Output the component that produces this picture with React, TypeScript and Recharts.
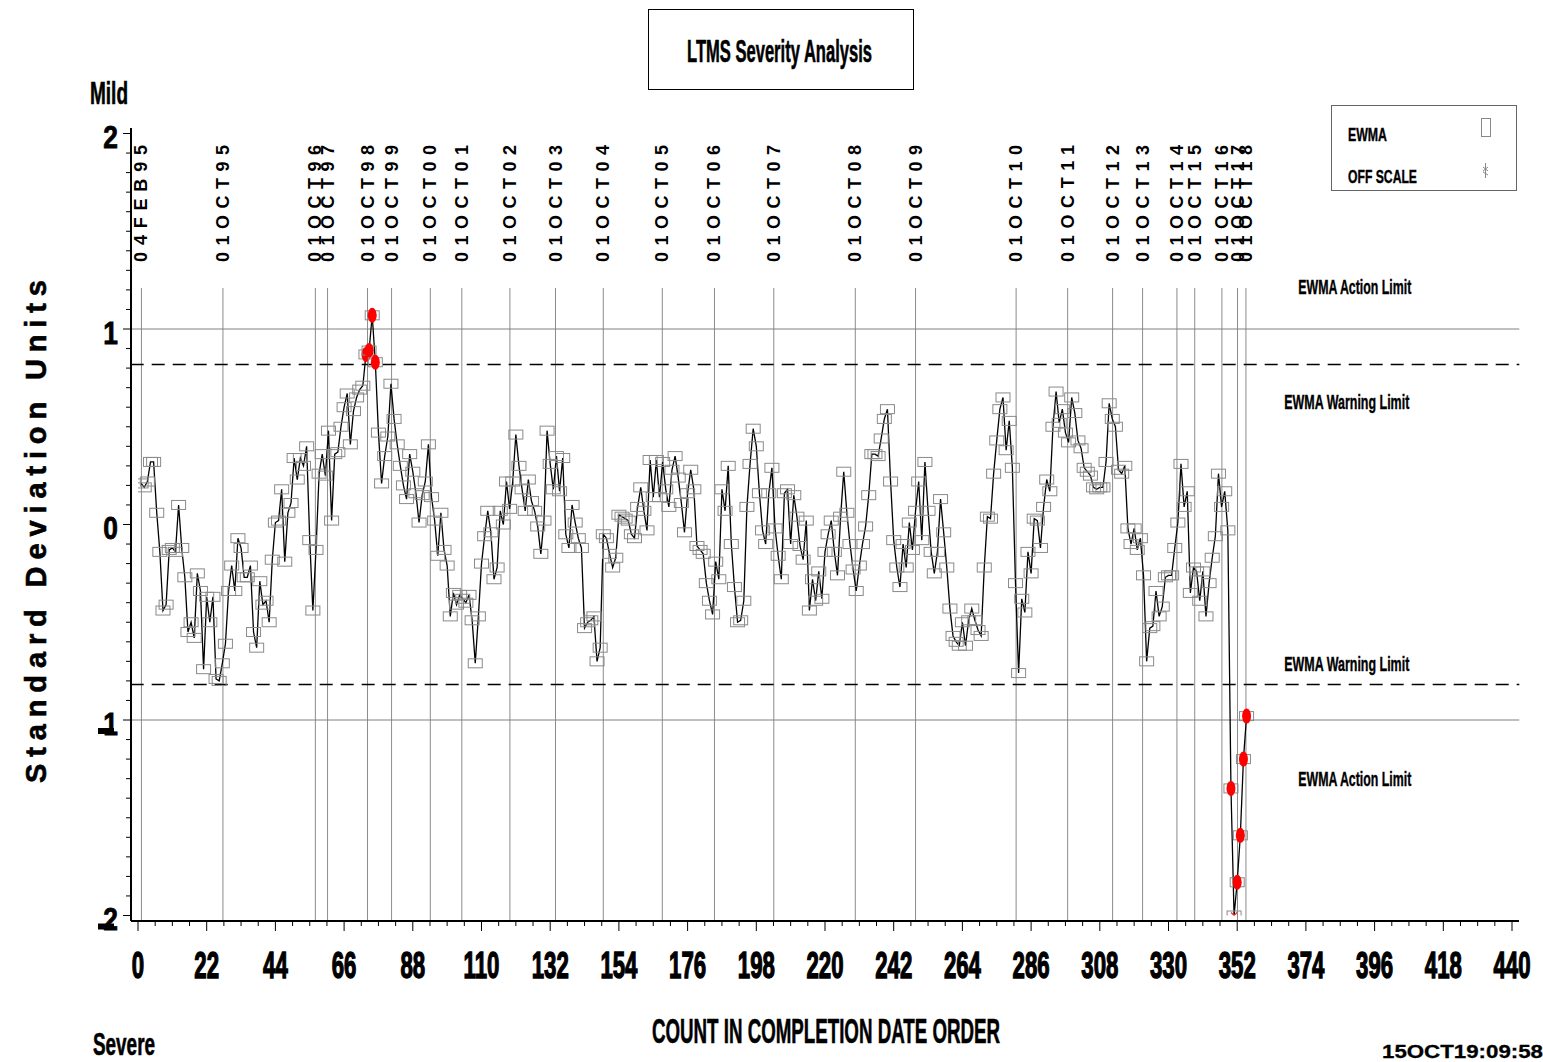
import React from "react";
import { ComposedChart, Line, XAxis, YAxis, ReferenceLine } from "recharts";

const FONT = "'Liberation Sans', Arial, sans-serif";

// EWMA severity (standard deviation units), in completion order, count 1..355
const ewmaRun1 = [
  0.21, 0.19, 0.22, 0.32, 0.32, 0.06, -0.14, -0.44, -0.41, -0.13,
  -0.12, -0.14, 0.1, -0.12, -0.27, -0.55, -0.5, -0.58, -0.25, -0.34,
  -0.74, -0.37, -0.5, -0.37, -0.79, -0.8, -0.71, -0.61, -0.34, -0.21,
  -0.34, -0.07, -0.12, -0.27, -0.27, -0.21, -0.55, -0.63, -0.29, -0.41,
  -0.39, -0.5, -0.18, 0.01, 0.02, 0.18, -0.19, 0.06, 0.11, 0.34,
  0.23, 0.34, 0.3, 0.4, -0.08, -0.44, -0.13, 0.26, 0.36, 0.25,
  0.48,
];
const ewmaRun2 = [
  0.02, 0.36, 0.37, 0.5, 0.6, 0.67, 0.41, 0.58, 0.65, 0.69,
  0.71, 0.87, 0.89, 1.07, 0.83, 0.47, 0.21, 0.35, 0.45, 0.72,
  0.54, 0.41, 0.3, 0.2, 0.13, 0.36, 0.27, 0.16, 0.01, 0.15,
  0.22, 0.41, 0.14, 0.02, -0.16, 0.06, -0.13, -0.21, -0.47, -0.35,
  -0.41, -0.36, -0.38, -0.4, -0.36, -0.49, -0.71, -0.47, -0.2, -0.06,
  0.07, -0.04, -0.28, -0.22, 0.07, 0.0, 0.22, 0.08, 0.22, 0.46,
  0.3, 0.18, 0.07,
];
const ewmaRun3 = [
  0.23, 0.12, 0.07, -0.01, -0.15, 0.02, 0.48, 0.31, 0.18, 0.35,
  0.17, 0.34, -0.05, -0.12, 0.1, 0.01, -0.07, -0.12, -0.53, -0.5,
  -0.49, -0.47, -0.7, -0.63, -0.05, -0.07, -0.15, -0.22, -0.17, 0.05,
  0.04, 0.03, 0.02, -0.05, -0.07, 0.09, 0.19, 0.07, -0.03, 0.33,
  0.14, 0.33, 0.14, 0.32, 0.18, 0.09, 0.28, 0.35, 0.24, 0.11,
  -0.04, 0.16, 0.28, 0.18, -0.11, -0.13, -0.15, -0.3, -0.39, -0.46,
  -0.19, -0.28,
];
const ewmaRun4 = [
  0.18, 0.07, 0.3, -0.1, -0.32, -0.5, -0.49, -0.39, 0.09, 0.31,
  0.49, 0.4, 0.16, -0.03, -0.1, 0.16, 0.29, -0.02, -0.16, -0.28,
  0.16, 0.18, -0.1, 0.15, 0.04, -0.11, -0.18, 0.02, -0.44, -0.28,
  -0.39, -0.24, -0.38, -0.14, -0.05, 0.02, -0.14, -0.26, 0.04, 0.27,
  0.06, -0.1, -0.23, -0.34, -0.21, -0.1, -0.01, 0.15, 0.36, 0.36,
  0.35, 0.44, 0.54, 0.59, 0.22, -0.08, -0.22, -0.32, -0.1, -0.22,
  0.01, -0.13, 0.07,
];
const ewmaRun5 = [
  0.22, -0.08, 0.32, 0.07, -0.14, -0.25, -0.14, 0.13, -0.04, -0.22,
  -0.43, -0.57, -0.6, -0.62, -0.5, -0.62, -0.49, -0.43, -0.49, -0.54,
  -0.57, -0.22, 0.04, 0.03, 0.26, 0.43, 0.59, 0.65, 0.38, 0.53,
  0.29, -0.3, -0.76, -0.38, -0.45, -0.14, -0.25, 0.03, 0.02, -0.12,
  0.09, 0.23, 0.17, 0.5, 0.68, 0.52, 0.59, 0.47, 0.42, 0.65,
  0.57, 0.43, 0.39, 0.29, 0.27, 0.25, 0.19, 0.18, 0.19, 0.19,
  0.32, 0.62,
];
const ewmaRun6 = [
  0.54, 0.5, 0.28, 0.26, 0.3, -0.02, -0.1, -0.02, -0.13, -0.07,
  -0.26, -0.7, -0.53, -0.52, -0.34, -0.47, -0.42, -0.27, -0.26, -0.26,
  -0.12, 0.01, 0.31, 0.09, 0.17, -0.35, -0.22, -0.24, -0.39, -0.24,
  -0.47, -0.3, -0.17, -0.06, 0.26, 0.09, 0.17, -0.03, -1.35, -2.0,
  -1.83, -1.59, -1.2, -0.98,
];

// date markers along the count axis
const dateLabels = [
  "04FEB95", "01OCT95", "01OCT96", "01OCT97", "01OCT98", "01OCT99",
  "01OCT00", "01OCT01", "01OCT02", "01OCT03", "01OCT04", "01OCT05",
  "01OCT06", "01OCT07", "01OCT08", "01OCT09", "01OCT10", "01OCT11",
  "01OCT12", "01OCT13", "01OCT14", "01OCT15", "01OCT16", "01OCT17",
  "01OCT18",
];
const dateCounts = [
  1.1, 27.2, 56.8, 60.7, 73.5, 81.2, 93.6, 103.7, 119.1, 133.7, 149.0,
  167.9, 184.6, 203.6, 229.7, 249.0, 281.2, 297.7, 312.1, 321.7, 332.7,
  338.4, 347.1, 352.1, 354.8,
];

const ACTION_LIMIT = 1;
const WARNING_LIMIT = 0.818;
const RED_CUTOFF = 0.815;
const OFF_SCALE = -2;

const xTicks = Array.from({ length: 81 }, (_, i) => Math.round(i * 55) / 10);
const yTicks = Array.from({ length: 41 }, (_, i) => Math.round(i - 20) / 10);

const data = [...ewmaRun1, ...ewmaRun2, ...ewmaRun3, ...ewmaRun4, ...ewmaRun5, ...ewmaRun6].map(
  (v, i) => ({ count: i + 1, v })
);

function CountTick({ x = 0, y = 0, payload }: any) {
  const v = payload?.value ?? 0;
  const major = Math.abs(v / 22 - Math.round(v / 22)) < 1e-6;
  return (
    <g>
      <line x1={x} x2={x} y1={y} y2={y + (major ? 10 : 5)} stroke="#000" strokeWidth={1} />
      {major && (
        <text
          transform={`translate(${x} ${y + 57}) scale(0.6 1)`}
          textAnchor="middle"
          fontSize={37}
          fontWeight={700}
          fontFamily={FONT}
          fill="#000"
          stroke="#000"
          strokeWidth={1.4}
        >
          {v}
        </text>
      )}
    </g>
  );
}

function SdTick({ x = 0, y = 0, payload }: any) {
  const v = payload?.value ?? 0;
  const major = Number.isInteger(v);
  if (!major) {
    return <line x1={x - 5} x2={x} y1={y} y2={y} stroke="#000" strokeWidth={1} />;
  }
  const neg = v < 0;
  return (
    <g>
      <line x1={x - 8} x2={x} y1={y} y2={y} stroke="#000" strokeWidth={1} />
      <text
        transform={`translate(${x - 13} ${y + 14.5}) scale(0.85 1)`}
        textAnchor="end"
        fontSize={31}
        fontWeight={700}
        fontFamily={FONT}
        fill="#000"
        stroke="#000"
        strokeWidth={0.8}
      >
        {Math.abs(v)}
      </text>
      {/* the minus sits low and overlaps the digit */}
      {neg && <rect x={x - 33} y={y + 8} width={16} height={6} fill="#000" />}
    </g>
  );
}

function EwmaMark({ cx, cy, payload }: any) {
  if (cx == null || cy == null) return null;
  const v = payload?.v ?? 0;
  return (
    <g>
      <rect x={cx - 7} y={cy - 4.5} width={14} height={9} fill="none" stroke="#8a8a8a" strokeWidth={1} />
      {v <= OFF_SCALE ? (
        <path
          d={`M${cx - 3},${cy - 3}L${cx + 3},${cy + 3}M${cx + 3},${cy - 3}L${cx - 3},${cy + 3}`}
          stroke="#ff2020"
          strokeWidth={1.2}
        />
      ) : Math.abs(v) > RED_CUTOFF ? (
        <ellipse cx={cx} cy={cy} rx={4.5} ry={7.5} fill="#ff0000" />
      ) : null}
    </g>
  );
}

function DateTag({ viewBox, text }: any) {
  const x = viewBox?.x ?? 0;
  const by = (viewBox?.y ?? 0) - 26;
  return (
    <text
      x={x}
      y={by}
      transform={`rotate(-90 ${x} ${by})`}
      dominantBaseline="central"
      textLength={117}
      lengthAdjust="spacing"
      fontSize={18}
      fontWeight={700}
      fontFamily={FONT}
      fill="#000"
    >
      {text}
    </text>
  );
}

function LimitTag({ viewBox, text, fromRight, length, dy }: any) {
  const right = (viewBox?.x ?? 0) + (viewBox?.width ?? 0);
  return (
    <text
      x={right - fromRight}
      y={(viewBox?.y ?? 0) + dy}
      textLength={length}
      lengthAdjust="spacingAndGlyphs"
      fontSize={21}
      fontWeight={700}
      fontFamily={FONT}
      fill="#000"
      stroke="#000"
      strokeWidth={0.4}
    >
      {text}
    </text>
  );
}

function Caption({ x, y, len, size, children, weight = 0.6 }: any) {
  return (
    <text
      x={x}
      y={y}
      textLength={len}
      lengthAdjust="spacingAndGlyphs"
      fontSize={size}
      fontWeight={700}
      fontFamily={FONT}
      fill="#000"
      stroke="#000"
      strokeWidth={weight}
    >
      {children}
    </text>
  );
}

const X_LEFT = -2.34;
const X_RIGHT = 442.34;

export default function App() {
  return (
    <div style={{ position: "absolute", left: 0, top: 0, width: 1543, height: 1062, background: "#fff" }}>
      <ComposedChart
        width={1543}
        height={1062}
        data={data}
        margin={{ top: 128, right: 24, bottom: 81, left: 81 }}
      >
        <XAxis
          type="number"
          dataKey="count"
          domain={[0, 440]}
          ticks={xTicks}
          interval={0}
          allowDataOverflow
          height={60}
          padding={{ left: 7, right: 7 }}
          tickSize={0}
          tickMargin={0}
          tickLine={false}
          axisLine={{ stroke: "#000", strokeWidth: 2 }}
          tick={<CountTick />}
        />
        <YAxis
          type="number"
          domain={[-2, 2]}
          ticks={yTicks}
          interval={0}
          allowDataOverflow
          width={50}
          padding={{ top: 5.5, bottom: 5.5 }}
          tickSize={0}
          tickMargin={0}
          tickLine={false}
          axisLine={{ stroke: "#000", strokeWidth: 2 }}
          tick={<SdTick />}
        />

        {dateCounts.map((c, i) => (
          <ReferenceLine
            key={dateLabels[i]}
            segment={[
              { x: c, y: 1.21 },
              { x: c, y: -2.03 },
            ]}
            ifOverflow="visible"
            stroke="#8c8c8c"
            strokeWidth={1}
            label={<DateTag text={dateLabels[i]} />}
          />
        ))}

        <ReferenceLine
          segment={[
            { x: X_LEFT, y: ACTION_LIMIT },
            { x: X_RIGHT, y: ACTION_LIMIT },
          ]}
          ifOverflow="visible"
          stroke="#808080"
          strokeWidth={1}
          label={<LimitTag text="EWMA Action Limit" fromRight={221} length={113} dy={-35} />}
        />
        <ReferenceLine
          segment={[
            { x: X_LEFT, y: WARNING_LIMIT },
            { x: X_RIGHT, y: WARNING_LIMIT },
          ]}
          ifOverflow="visible"
          stroke="#000"
          strokeWidth={1.5}
          strokeDasharray="13 8"
          label={<LimitTag text="EWMA Warning Limit" fromRight={235} length={125} dy={44.5} />}
        />
        <ReferenceLine
          segment={[
            { x: X_LEFT, y: -WARNING_LIMIT },
            { x: X_RIGHT, y: -WARNING_LIMIT },
          ]}
          ifOverflow="visible"
          stroke="#000"
          strokeWidth={1.5}
          strokeDasharray="13 8"
          label={<LimitTag text="EWMA Warning Limit" fromRight={235} length={125} dy={-13.5} />}
        />
        <ReferenceLine
          segment={[
            { x: X_LEFT, y: -ACTION_LIMIT },
            { x: X_RIGHT, y: -ACTION_LIMIT },
          ]}
          ifOverflow="visible"
          stroke="#808080"
          strokeWidth={1}
          label={<LimitTag text="EWMA Action Limit" fromRight={221} length={113} dy={66} />}
        />

        <Line
          type="linear"
          dataKey="v"
          stroke="#000"
          strokeWidth={1.3}
          dot={<EwmaMark />}
          activeDot={false}
          isAnimationActive={false}
        />
      </ComposedChart>

      <svg
        width={1543}
        height={1062}
        style={{ position: "absolute", left: 0, top: 0, pointerEvents: "none" }}
      >
        <rect x={648.5} y={9.5} width={265} height={80} fill="none" stroke="#000" strokeWidth={1} />
        <Caption x={687} y={62} len={185} size={31}>LTMS Severity Analysis</Caption>

        <Caption x={90} y={104} len={38} size={31}>Mild</Caption>
        <Caption x={93} y={1055} len={62} size={31}>Severe</Caption>
        <Caption x={652} y={1043} len={348} size={35}>COUNT IN COMPLETION DATE ORDER</Caption>
        <Caption x={1382} y={1058} len={161} size={19} weight={0.3}>15OCT19:09:58</Caption>

        <text
          x={46}
          y={783}
          transform="rotate(-90 46 783)"
          textLength={503}
          lengthAdjust="spacing"
          fontSize={29}
          fontWeight={700}
          fontFamily={FONT}
          fill="#000"
          stroke="#000"
          strokeWidth={0.6}
        >
          Standard Deviation Units
        </text>

        <rect x={1331.5} y={105.5} width={185} height={85} fill="none" stroke="#666" strokeWidth={1} />
        <Caption x={1348} y={141} len={39} size={19} weight={0.4}>EWMA</Caption>
        <Caption x={1348} y={183} len={69} size={19} weight={0.4}>OFF SCALE</Caption>
        <rect x={1481.5} y={118.5} width={9} height={18} fill="none" stroke="#888" strokeWidth={1} />
        <g stroke="#888" strokeWidth={1}>
          <line x1={1485.5} x2={1485.5} y1={163} y2={178} />
          <line x1={1483} x2={1488} y1={167} y2={171} />
          <line x1={1488} x2={1483} y1={167} y2={171} />
          <line x1={1483} x2={1488} y1={172} y2={175} />
        </g>
      </svg>
    </div>
  );
}
